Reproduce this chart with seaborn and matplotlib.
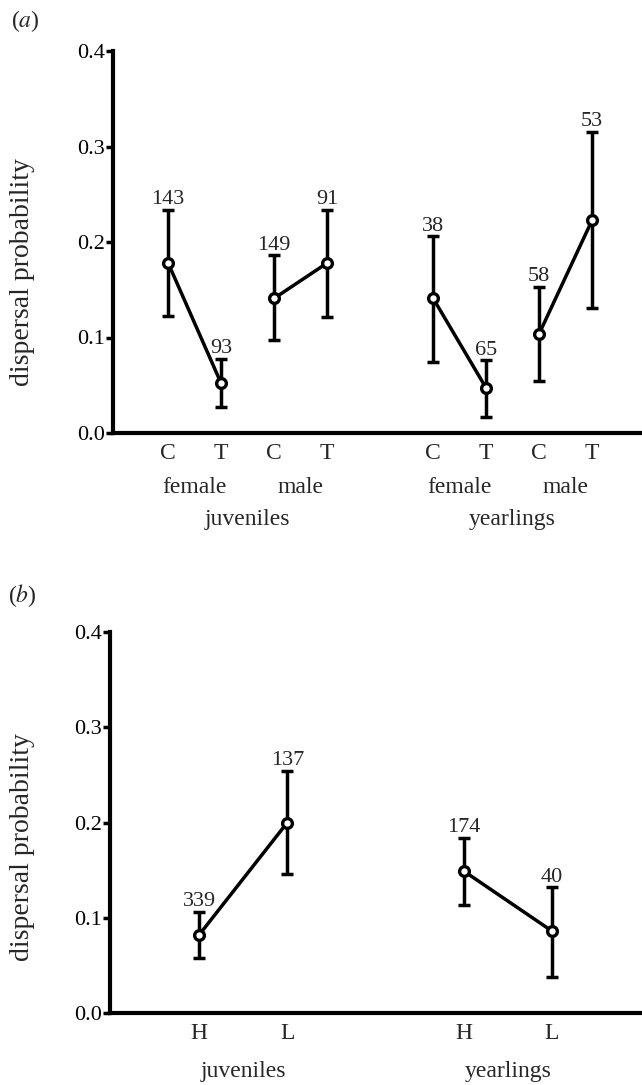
import numpy as np
import pandas as pd
import matplotlib
matplotlib.use("Agg")
import matplotlib.pyplot as plt
import seaborn as sns
from matplotlib.transforms import blended_transform_factory

# ---------------- data ----------------
# panel (a): treatment C/T by sex and age
a_age = ["juveniles"] * 4 + ["yearlings"] * 4
a_sex = ["female", "female", "male", "male", "female", "female", "male", "male"]
a_treat = ["C", "T", "C", "T", "C", "T", "C", "T"]
a_prob = [0.178, 0.052, 0.141, 0.178, 0.141, 0.047, 0.104, 0.223]
a_lower = [0.122, 0.027, 0.097, 0.121, 0.074, 0.017, 0.054, 0.131]
a_upper = [0.234, 0.078, 0.186, 0.234, 0.206, 0.076, 0.153, 0.315]
a_n = [143, 93, 149, 91, 38, 65, 58, 53]

# panel (b): density H/L by age
b_age = ["juveniles", "juveniles", "yearlings", "yearlings"]
b_density = ["H", "L", "H", "L"]
b_prob = [0.082, 0.200, 0.149, 0.086]
b_lower = [0.058, 0.146, 0.113, 0.038]
b_upper = [0.106, 0.254, 0.184, 0.132]
b_n = [339, 137, 174, 40]

yticks = [0.0, 0.1, 0.2, 0.3, 0.4]
ylabel = "dispersal probability"

# ---------------- style ----------------
sns.set_theme(style="ticks")
plt.rcParams["font.family"] = ["Liberation Serif", "DejaVu Serif"]
plt.rcParams["mathtext.fontset"] = "stix"

W, H = 642, 1085
fig = plt.figure(figsize=(W / 100, H / 100), dpi=100)

def px_axes(left, top, right, bottom):
    return fig.add_axes([left / W, 1 - bottom / H, (right - left) / W, (bottom - top) / H])

ax_a = px_axes(113, 51, 642, 433)
ax_b = px_axes(110, 632, 642, 1013)

LW = 2.5
FS_TICK = 16
FS_CAT = 17
FS_LAB = 20

def draw_panel(ax, df, group_col, xlim):
    ax.errorbar(df["pos"], df["prob"],
                yerr=[df["prob"] - df["lower"], df["upper"] - df["prob"]],
                fmt="none", ecolor="black", elinewidth=LW, capsize=4.5, capthick=LW, zorder=2)
    sns.lineplot(data=df, x="pos", y="prob", units=group_col, estimator=None,
                 color="black", lw=LW, marker="o", markersize=7,
                 markerfacecolor="white", markeredgecolor="black", markeredgewidth=2.4,
                 ax=ax, zorder=3, legend=False)
    for x, up, n in zip(df["pos"], df["upper"], df["n"]):
        ax.annotate(str(n), (x, up), xytext=(0, 0.5), textcoords="offset points",
                    ha="center", va="bottom", fontsize=FS_TICK)
    ax.set_xlim(*xlim)
    ax.set_ylim(0, 0.4)
    ax.set_yticks(yticks)
    ax.set_yticklabels([f"{t:.1f}" for t in yticks], fontsize=FS_TICK)
    ax.set_ylabel(ylabel, fontsize=FS_LAB)
    ax.yaxis.label.set_va("center")
    ax.set_xlabel("")
    for s in ["top", "right"]:
        ax.spines[s].set_visible(False)
    for s in ["left", "bottom"]:
        ax.spines[s].set_linewidth(3.0)
        ax.spines[s].set_color("black")
    ax.tick_params(axis="y", length=5, width=2.5, pad=1, colors="black")
    ax.tick_params(axis="x", length=0, pad=7, labelsize=FS_CAT)
    ax.set_xticks(list(df["pos"]))
    ax.grid(False)

def baseline_text(ax, x, y_px, s):
    tr = blended_transform_factory(ax.transData, fig.transFigure)
    ax.text(x, 1 - y_px / H, s, transform=tr, ha="center", va="baseline",
            fontsize=FS_CAT, clip_on=False)

# panel (a)
df_a = pd.DataFrame({"age": a_age, "sex": a_sex, "treat": a_treat, "prob": a_prob,
                     "lower": a_lower, "upper": a_upper, "n": a_n})
df_a["pair"] = df_a["age"] + "-" + df_a["sex"]
df_a["pos"] = np.arange(len(df_a)) + np.repeat([0, 1], 4)
draw_panel(ax_a, df_a, "pair", (-1.04, 8.94))
ax_a.set_xticklabels(df_a["treat"])
ax_a.yaxis.set_label_coords(-(113 - 23) / 529, 0.42)
for key, g in df_a.groupby("pair", sort=False):
    baseline_text(ax_a, g["pos"].mean(), 493, g["sex"].iloc[0])
for key, g in df_a.groupby("age", sort=False):
    baseline_text(ax_a, g["pos"].mean(), 525, key)

# panel (b)
df_b = pd.DataFrame({"age": b_age, "density": b_density, "prob": b_prob,
                     "lower": b_lower, "upper": b_upper, "n": b_n})
df_b["pos"] = np.arange(len(df_b)) + np.repeat([0, 1], 2)
draw_panel(ax_b, df_b, "age", (-1.01, 5.02))
ax_b.set_xticklabels(df_b["density"])
ax_b.yaxis.set_label_coords(-(110 - 23) / 532, 0.435)
for key, g in df_b.groupby("age", sort=False):
    baseline_text(ax_b, g["pos"].mean(), 1077, key)

fig.text(11 / W, 1 - 27 / H, "($a$)", ha="left", va="baseline", fontsize=FS_CAT)
fig.text(8 / W, 1 - 602 / H, "($b$)", ha="left", va="baseline", fontsize=FS_CAT)

fig.savefig("out.png", dpi=100, facecolor="white")
